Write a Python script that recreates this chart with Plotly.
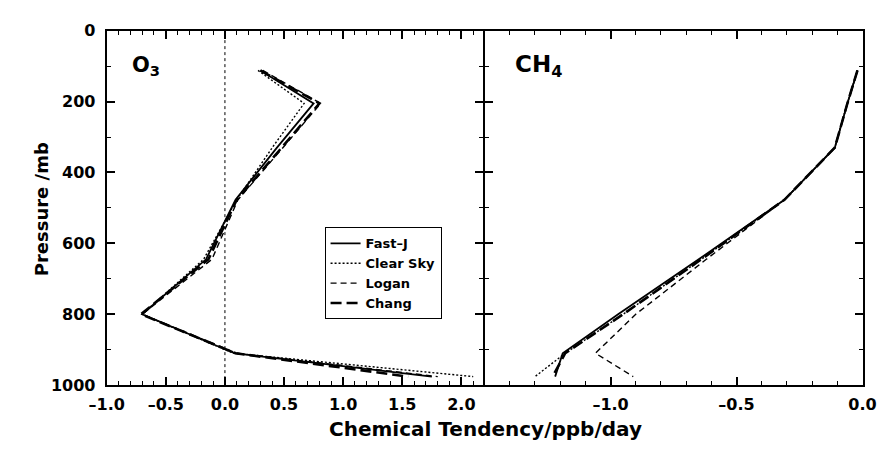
import plotly.graph_objects as go

# Pressure levels (mb) shared by all profiles
pressure = [112, 205, 330, 477, 645, 800, 910, 976]

# O3 chemical tendency (ppb/day)
o3_fastj = [0.30, 0.75, 0.44, 0.09, -0.16, -0.70, 0.08, 1.75]
o3_clear = [0.28, 0.67, 0.40, 0.10, -0.18, -0.70, 0.07, 2.10]
o3_logan = [0.32, 0.81, 0.49, 0.11, -0.11, -0.70, 0.10, 1.80]
o3_chang = [0.30, 0.80, 0.48, 0.10, -0.14, -0.71, 0.09, 1.55]

# CH4 chemical tendency (ppb/day)
ch4_fastj = [-0.02, -0.06, -0.11, -0.31, -0.65, -0.97, -1.19, -1.22]
ch4_clear = [-0.02, -0.06, -0.11, -0.31, -0.64, -0.95, -1.18, -1.30]
ch4_logan = [-0.02, -0.06, -0.11, -0.31, -0.62, -0.90, -1.06, -0.91]
ch4_chang = [-0.02, -0.06, -0.11, -0.31, -0.64, -0.95, -1.18, -1.23]

series_names = ["Fast\u2013J", "Clear Sky", "Logan", "Chang"]
o3_series = [o3_fastj, o3_clear, o3_logan, o3_chang]
ch4_series = [ch4_fastj, ch4_clear, ch4_logan, ch4_chang]

x1_ticks = [-1.0, -0.5, 0.0, 0.5, 1.0, 1.5, 2.0]
x2_ticks = [-1.0, -0.5, 0.0]

styles = [
    dict(color="black", width=1.8, dash="solid"),
    dict(color="black", width=1.4, dash="2px,2px"),
    dict(color="black", width=1.4, dash="6px,4px"),
    dict(color="black", width=2.6, dash="11px,5px"),
]

FONT = "DejaVu Sans, Liberation Sans, sans-serif"
W, H = 890, 450
LW = 2  # frame line width

fig = go.Figure()
for name, o3, ch4, st in zip(series_names, o3_series, ch4_series, styles):
    fig.add_trace(go.Scatter(x=o3, y=pressure, mode="lines", name=name,
                             line=st, legendgroup=name, xaxis="x", yaxis="y"))
    fig.add_trace(go.Scatter(x=ch4, y=pressure, mode="lines", name=name,
                             line=st, legendgroup=name, showlegend=False,
                             xaxis="x2", yaxis="y2"))

tickfont = dict(family=FONT, size=16, color="black", weight="bold")
frame = dict(showline=True, linecolor="black", linewidth=LW, mirror="ticks",
             ticks="inside", ticklen=8, tickwidth=1.5, tickcolor="black",
             showgrid=False, zeroline=False, tickfont=tickfont,
             ticklabeloverflow="allow")
minor_x = dict(ticks="inside", ticklen=4, tickwidth=1.2, tickcolor="black",
               dtick=0.1, tick0=0, showgrid=False)
minor_y = dict(ticks="inside", ticklen=4, tickwidth=1.2, tickcolor="black",
               dtick=100, tick0=0, showgrid=False)

y_dom = [1 - 392.7 / H, 1 - 22.7 / H]


def dash_labels(vals):
    return [f"{v:.1f}".replace("-", "\u2013") for v in vals]


fig.update_layout(
    width=W, height=H,
    margin=dict(l=0, r=0, t=0, b=0),
    paper_bgcolor="white", plot_bgcolor="white",
    font=dict(family=FONT, color="black"),
    xaxis=dict(domain=[92 / W, 482 / W], range=[-1.0, 2.18],
               tickmode="array", tickvals=x1_ticks, ticktext=dash_labels(x1_ticks),
               minor=minor_x, anchor="y", ticklabelstandoff=4, **frame),
    xaxis2=dict(domain=[(482 + LW) / W, 876 / W], range=[-1.5, 0.0],
                tickmode="array", tickvals=x2_ticks, ticktext=dash_labels(x2_ticks),
                minor=minor_x, anchor="y2", ticklabelstandoff=4, **frame),
    yaxis=dict(domain=y_dom, range=[1000, 0],
               tickmode="linear", tick0=0, dtick=200,
               minor=minor_y, anchor="x", ticklabelstandoff=6, **frame),
    yaxis2=dict(domain=y_dom, range=[1000, 0],
                tickmode="linear", tick0=0, dtick=200,
                minor=minor_y, anchor="x2", matches="y",
                showticklabels=False, **frame),
    legend=dict(x=318 / W, y=1 - 228 / H, xanchor="left", yanchor="top",
                bgcolor="white", bordercolor="black", borderwidth=1,
                font=dict(family=FONT, size=13, color="black", weight="bold"),
                tracegroupgap=0),
    showlegend=True,
)

# Zero reference line in the O3 panel
fig.add_shape(type="line", xref="x", yref="y domain", x0=0, x1=0, y0=0, y1=1,
              line=dict(color="black", width=1, dash="dot"))

# Panel labels and axis titles
fig.add_annotation(text="O<sub>3</sub>", xref="paper", yref="paper",
                   x=116 / W, y=1 - 60 / H, xanchor="left", yanchor="middle",
                   showarrow=False,
                   font=dict(family=FONT, size=21, color="black", weight="bold"))
fig.add_annotation(text="CH<sub>4</sub>", xref="paper", yref="paper",
                   x=513 / W, y=1 - 59 / H, xanchor="left", yanchor="middle",
                   showarrow=False,
                   font=dict(family=FONT, size=23, color="black", weight="bold"))
fig.add_annotation(text="Chemical Tendency/ppb/day", xref="paper", yref="paper",
                   x=485 / W, y=1 - 438 / H, xanchor="center", yanchor="middle",
                   showarrow=False,
                   font=dict(family=FONT, size=20, color="black", weight="bold"))
fig.add_annotation(text="Pressure /mb", xref="paper", yref="paper",
                   x=24 / W, y=1 - 209 / H, xanchor="center", yanchor="middle",
                   textangle=-90, showarrow=False,
                   font=dict(family=FONT, size=18, color="black", weight="bold"))

fig.write_html("out.html")
